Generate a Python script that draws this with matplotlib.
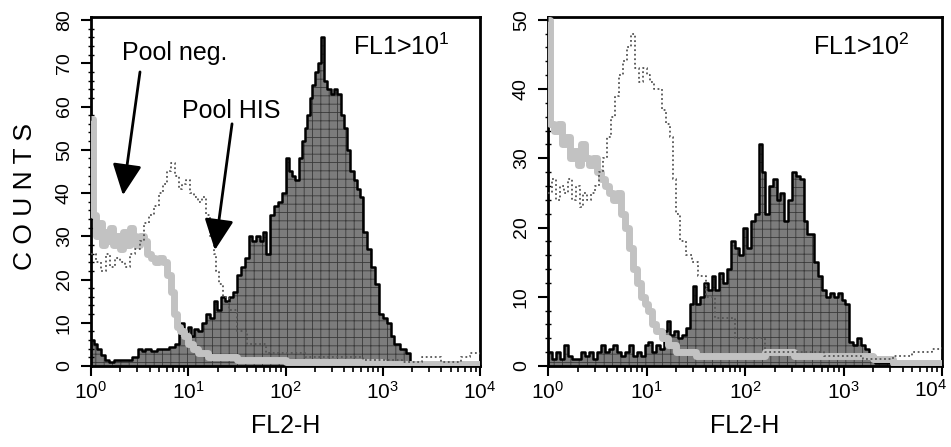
import numpy as np
from matplotlib import pyplot as plt
from matplotlib.ticker import MultipleLocator, LogLocator, NullFormatter

plt.rcParams['font.family'] = ['Liberation Sans', 'DejaVu Sans']
plt.rcParams['mathtext.fontset'] = 'custom'
plt.rcParams['mathtext.rm'] = 'Liberation Sans'
plt.rcParams['mathtext.it'] = 'Liberation Sans:italic'
plt.rcParams['mathtext.bf'] = 'Liberation Sans:bold'
plt.rcParams['hatch.linewidth'] = 0.6

# positions in decades of FL2-H (log10), counts
# --- left panel, FL1 > 10^1 ---
left_his_dec = [0.00, 0.03, 0.06, 0.10, 0.14, 0.18, 0.24, 0.30, 0.36, 0.42, 0.48, 0.52, 0.56, 0.62,
                0.68, 0.74, 0.80, 0.86, 0.90, 0.93, 0.96, 1.00, 1.03, 1.06, 1.10, 1.14, 1.18, 1.22,
                1.26, 1.30, 1.34, 1.38, 1.42, 1.46, 1.50, 1.54, 1.58, 1.62, 1.66, 1.70, 1.74, 1.77,
                1.80, 1.84, 1.88, 1.92, 1.96, 2.00, 2.04, 2.07, 2.10, 2.14, 2.17, 2.20, 2.22, 2.25,
                2.27, 2.30, 2.33, 2.37, 2.40, 2.43, 2.47, 2.50, 2.53, 2.57, 2.60, 2.63, 2.66, 2.70,
                2.74, 2.77, 2.80, 2.84, 2.88, 2.92, 2.96, 3.00, 3.04, 3.08, 3.12, 3.18, 3.24, 3.28,
                3.40, 3.60, 3.80, 4.00]
left_his_cnt = [6, 5, 4, 2.5, 1.5, 1, 1.5, 1.5, 1.5, 2, 4, 3.5, 4, 3.5,
                4, 4, 4.5, 5, 8, 10, 8, 9, 7, 8.5, 8, 10, 12, 11,
                15, 13, 16, 15, 16, 17, 21, 23, 25, 30, 29, 30, 29, 31,
                26, 35, 37, 38, 40, 48, 45, 44, 43, 48, 52, 55, 58, 62,
                65, 68, 70, 76, 66, 64, 63, 64, 63, 58, 55, 50, 45, 43,
                41, 39, 31, 27, 23, 19, 12, 11, 10, 7, 5, 4, 3, 1,
                0.5, 1, 0.5, 0.5]

left_neg_dec = [0.00, 0.02, 0.05, 0.08, 0.11, 0.14, 0.17, 0.20, 0.23, 0.26, 0.30, 0.33, 0.36, 0.40,
                0.43, 0.46, 0.50, 0.54, 0.58, 0.62, 0.66, 0.70, 0.74, 0.78, 0.82, 0.85, 0.88, 0.92,
                0.96, 1.00, 1.05, 1.10, 1.20, 1.50, 2.00, 2.50, 3.00, 3.50, 4.00]
left_neg_cnt = [57, 35, 30, 33, 28, 31, 29, 32, 28, 30, 27, 31, 28, 32,
                30, 28, 30, 29, 26, 25, 24, 25, 24, 21, 17, 12, 9, 8,
                7, 5, 4, 3, 2, 1.5, 1, 1, 0.5, 0.5, 0.5]

left_pool_dec = [0.00, 0.05, 0.10, 0.15, 0.20, 0.25, 0.30, 0.35, 0.40, 0.45, 0.50, 0.55, 0.60, 0.65,
                 0.70, 0.74, 0.78, 0.82, 0.86, 0.90, 0.94, 0.98, 1.02, 1.06, 1.10, 1.14, 1.18, 1.22,
                 1.26, 1.29, 1.32, 1.36, 1.42, 1.50, 1.60, 1.80, 2.20, 2.80, 3.20, 3.40, 3.60, 3.80,
                 3.90, 4.00]
left_pool_cnt = [26, 24, 22, 26, 23, 25, 24, 23, 26, 27, 29, 33, 35, 37,
                 40, 42, 45, 47, 44, 41, 42, 43, 40, 39, 38, 39, 35, 30,
                 26, 22, 19, 16, 13, 8, 5, 3, 2, 1.5, 1, 2, 1, 2,
                 3, 2]

# --- right panel, FL1 > 10^2 ---
right_his_dec = [0.00, 0.04, 0.08, 0.12, 0.16, 0.20, 0.24, 0.30, 0.34, 0.38, 0.42, 0.46, 0.50, 0.54,
                 0.58, 0.62, 0.66, 0.70, 0.74, 0.78, 0.82, 0.86, 0.90, 0.94, 0.98, 1.02, 1.06, 1.10,
                 1.14, 1.18, 1.21, 1.24, 1.28, 1.32, 1.36, 1.40, 1.44, 1.47, 1.50, 1.54, 1.58, 1.62,
                 1.66, 1.70, 1.74, 1.78, 1.82, 1.86, 1.90, 1.94, 1.98, 2.02, 2.06, 2.10, 2.14, 2.17,
                 2.20, 2.24, 2.28, 2.32, 2.36, 2.40, 2.44, 2.48, 2.52, 2.56, 2.60, 2.63, 2.66, 2.70,
                 2.74, 2.78, 2.82, 2.86, 2.90, 2.94, 2.98, 3.02, 3.06, 3.10, 3.14, 3.18, 3.22, 3.26,
                 3.32, 4.00]
right_his_cnt = [2, 1, 2, 1, 3, 1.5, 1, 1, 2, 1.5, 2, 1, 2, 3,
                 2, 2.5, 3, 2, 1.5, 2, 3, 1.5, 2, 1.5, 3, 3.5, 2, 3,
                 2.5, 5, 6.5, 4.5, 5, 4, 4.5, 5.5, 9, 11.5, 9, 10, 12, 11,
                 13, 11, 13.5, 12, 14, 18, 17, 16, 20, 17, 21, 22, 32, 28,
                 22, 26, 27, 24, 25, 21, 24, 28, 27.5, 27, 21, 19, 19, 15,
                 13, 11, 10, 10.5, 10, 10.5, 9.5, 9, 3.5, 3, 4, 3, 2.5, 1.5,
                 0.5, 0.5]

right_neg_dec = [0.00, 0.02, 0.06, 0.10, 0.14, 0.18, 0.22, 0.26, 0.30, 0.34, 0.38, 0.42, 0.46, 0.50,
                 0.54, 0.58, 0.62, 0.66, 0.70, 0.74, 0.78, 0.82, 0.86, 0.90, 0.94, 0.98, 1.02, 1.06,
                 1.10, 1.16, 1.22, 1.30, 1.50, 2.00, 2.20, 2.50, 3.00, 3.30, 3.50, 4.00]
right_neg_cnt = [50, 35, 34, 35, 32, 33, 30, 31, 29, 32, 30, 29, 30, 28,
                 27, 26, 25, 24, 25, 22, 20, 17, 14, 12, 10, 9, 8, 6,
                 5, 4, 3, 2, 1.5, 1.5, 2, 1.5, 1.5, 1, 0.5, 0.5]

right_pool_dec = [0.00, 0.04, 0.08, 0.12, 0.16, 0.20, 0.24, 0.28, 0.32, 0.36, 0.40, 0.44, 0.48, 0.52,
                  0.56, 0.60, 0.64, 0.68, 0.72, 0.76, 0.80, 0.84, 0.88, 0.92, 0.96, 1.00, 1.04, 1.08,
                  1.12, 1.16, 1.20, 1.24, 1.27, 1.30, 1.34, 1.40, 1.46, 1.52, 1.60, 1.70, 1.90, 2.20,
                  2.80, 3.20, 3.50, 3.70, 3.90, 4.00]
right_pool_cnt = [25, 27, 24, 26, 25, 27, 24, 26, 23, 25, 24, 25, 26, 28,
                  30, 33, 36, 39, 42, 44, 46, 48, 43, 41, 43, 42, 41, 40,
                  40, 37, 35, 33, 27, 22, 18, 16, 15, 13, 10, 7, 4, 2,
                  1.5, 1, 1.5, 2, 2.5, 3]

decade_ticks = [1, 10, 100, 1000, 10000]
decade_labels = [r'$\mathdefault{10^{0}}$', r'$\mathdefault{10^{1}}$', r'$\mathdefault{10^{2}}$',
                 r'$\mathdefault{10^{3}}$', r'$\mathdefault{10^{4}}$']


def draw_panel(ax, his, neg, pool, ymax, ymajor, yminor, tag, xlabels):
    x = 10 ** np.array(his[0])
    ax.fill_between(x, his[1], step='post', facecolor='#7c7c7c', edgecolor='#3a3a3a',
                    hatch='++', linewidth=0, zorder=1)
    ax.step(x, his[1], where='post', color='black', linewidth=1.8, zorder=2)
    ax.step(10 ** np.array(neg[0]), neg[1], where='post', color='#c2c2c2', linewidth=5,
            zorder=3, solid_capstyle='butt')
    ax.step(10 ** np.array(pool[0]), pool[1], where='post', color='#555555', linewidth=1.3,
            linestyle=(0, (1, 1.5)), zorder=4)

    ax.set_xscale('log')
    ax.set_xlim(1, 1e4)
    ax.set_ylim(0, ymax)
    ax.set_xticks(decade_ticks, labels=xlabels)
    ax.xaxis.set_minor_locator(LogLocator(base=10, subs=np.arange(2, 10), numticks=20))
    ax.xaxis.set_minor_formatter(NullFormatter())
    ax.yaxis.set_major_locator(MultipleLocator(ymajor))
    ax.yaxis.set_minor_locator(MultipleLocator(yminor))
    ax.tick_params(axis='x', which='major', direction='out', length=7, width=1.5,
                   labelsize=15, pad=4)
    ax.tick_params(axis='x', which='minor', direction='out', length=4, width=1.2)
    ax.tick_params(axis='y', which='major', direction='out', length=7, width=1.5,
                   labelsize=14, pad=6)
    ax.tick_params(axis='y', which='minor', direction='inout', length=5, width=1.0)
    for lab in ax.get_yticklabels():
        lab.set_rotation(90)
        lab.set_va('center')
    for sp in ax.spines.values():
        sp.set_linewidth(2)
    ax.set_xlabel('FL2-H', fontsize=18, labelpad=8)
    ax.text(0.673, 0.89, tag, transform=ax.transAxes, fontsize=18, ha='left', va='baseline')


fig = plt.figure(figsize=(9.51, 4.47), dpi=100)
ax1 = fig.add_axes([91 / 951, 81 / 447, 389 / 951, 349 / 447])
ax2 = fig.add_axes([548 / 951, 81 / 447, 394 / 951, 349 / 447])

draw_panel(ax1, (left_his_dec, left_his_cnt), (left_neg_dec, left_neg_cnt),
           (left_pool_dec, left_pool_cnt), 80.7, 10, 2, r'FL1>10$^{\mathdefault{1}}$',
           decade_labels)
draw_panel(ax2, (right_his_dec, right_his_cnt), (right_neg_dec, right_neg_cnt),
           (right_pool_dec, right_pool_cnt), 50.4, 10, 2, r'FL1>10$^{\mathdefault{2}}$',
           decade_labels[:-1] + [''])

# the 10^4 label of the right panel sits at the figure edge: draw it nudged inside
ax2.annotate(decade_labels[-1], xy=(decade_ticks[-1], 0), xycoords=('data', 'axes fraction'),
             xytext=(-8, -9), textcoords='offset points', ha='center', va='top', fontsize=15)

fig.text(25 / 951, 0.56, 'C O U N T S', rotation=90, fontsize=19, ha='center', va='center')

arrow = dict(arrowstyle='-|>,head_length=0.95,head_width=0.45', mutation_scale=20,
             color='black', lw=2, shrinkA=0, shrinkB=0)
ax1.annotate('', xy=(2.13, 39.5), xytext=(3.19, 68), arrowprops=arrow, zorder=5)
ax1.annotate('', xy=(18.8, 26.8), xytext=(28.2, 56), arrowprops=arrow, zorder=5)
ax1.text(2.08, 70.8, 'Pool neg.', fontsize=18, ha='left', va='baseline')
ax1.text(8.63, 57.3, 'Pool HIS', fontsize=18, ha='left', va='baseline')

fig.savefig('out.png', dpi=100)
